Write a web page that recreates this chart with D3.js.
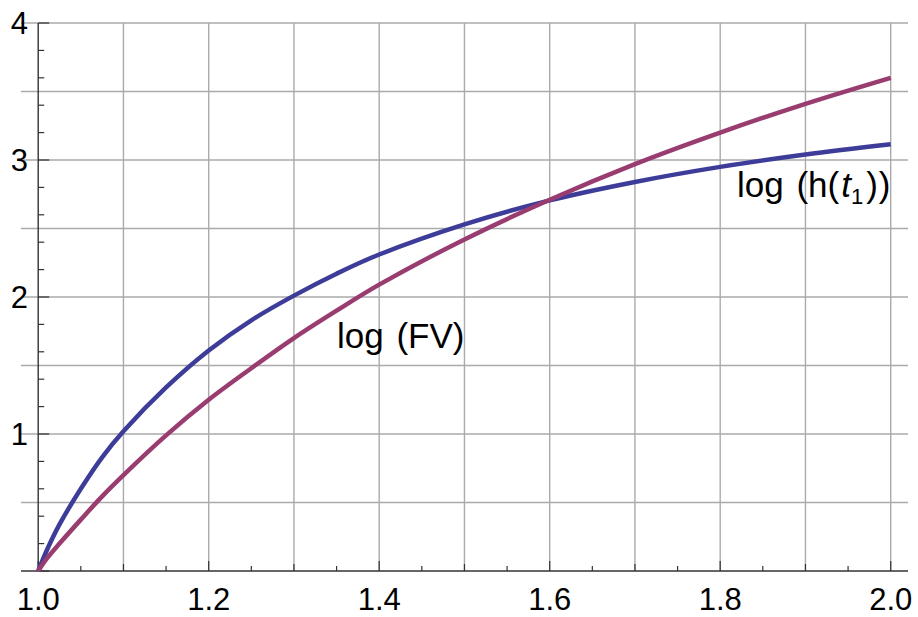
<!DOCTYPE html>
<html>
<head>
<meta charset="utf-8">
<script src="https://cdn.jsdelivr.net/npm/d3@7"></script>
<style>
  body { margin: 0; background: #fff; }
  svg { display: block; font-family: "Liberation Sans", Arial, sans-serif; }
</style>
</head>
<body>
<script>
// x positions where the curves were read
const xs = [1.0, 1.01, 1.025, 1.05, 1.075, 1.1, 1.15, 1.2, 1.25, 1.3, 1.35, 1.4, 1.5, 1.6, 1.7, 1.8, 1.9, 2.0];
// log(h(t1)) - blue
const logH = [0, 0.15, 0.34, 0.60, 0.83, 1.02, 1.34, 1.61, 1.83, 2.01, 2.17, 2.31, 2.53, 2.705, 2.84, 2.95, 3.04, 3.115];
// log(FV) - purple
const logFV = [0, 0.09, 0.20, 0.375, 0.545, 0.70, 0.99, 1.25, 1.48, 1.70, 1.90, 2.09, 2.42, 2.71, 2.97, 3.20, 3.41, 3.60];

const xTickLabels = [1.0, 1.2, 1.4, 1.6, 1.8, 2.0];
const yTickLabels = [1, 2, 3, 4];
const xGrid = d3.range(11).map(i => 1 + i / 10);
const yGrid = d3.range(1, 9).map(i => i / 2);

const W = 918, H = 617;
const x = d3.scaleLinear().domain([1, 2]).range([38.2, 890.7]);
const y = d3.scaleLinear().domain([0, 4]).range([571, 23]);

const svg = d3.select('body').append('svg')
  .attr('width', W)
  .attr('height', H);

// grid
svg.append('g').selectAll('line')
  .data(xGrid.slice(1))
  .enter().append('line')
  .attr('x1', d => x(d)).attr('x2', d => x(d))
  .attr('y1', y(4)).attr('y2', y(0))
  .attr('stroke', '#aaa').attr('stroke-width', 1.4);

svg.append('g').selectAll('line')
  .data(yGrid)
  .enter().append('line')
  .attr('x1', 21).attr('x2', 908)
  .attr('y1', d => y(d)).attr('y2', d => y(d))
  .attr('stroke', '#aaa').attr('stroke-width', 1.4);

// axes
const axisColor = '#333';
function tickLen(v, major, mid) {
  if (Math.abs(v / major - Math.round(v / major)) < 1e-6) return 10;
  if (mid && Math.abs(v / mid - Math.round(v / mid)) < 1e-6) return 7;
  return 5;
}

const xTicks = d3.range(21).map(i => 1 + i * 0.05);
svg.append('g').selectAll('line')
  .data(xTicks)
  .enter().append('line')
  .attr('x1', d => x(d)).attr('x2', d => x(d))
  .attr('y1', y(0)).attr('y2', d => y(0) - tickLen(d - 1, 0.2, 0.1))
  .attr('stroke', axisColor).attr('stroke-width', 1.2);

const yTicks = d3.range(21).map(i => i * 0.2);
svg.append('g').selectAll('line')
  .data(yTicks)
  .enter().append('line')
  .attr('x1', x(1)).attr('x2', d => x(1) + (Math.abs(d - Math.round(d)) < 1e-6 ? 11 : 6))
  .attr('y1', d => y(d)).attr('y2', d => y(d))
  .attr('stroke', axisColor).attr('stroke-width', 1.2);

svg.append('line')
  .attr('x1', 21).attr('x2', 908)
  .attr('y1', y(0)).attr('y2', y(0))
  .attr('stroke', axisColor).attr('stroke-width', 1.4);
svg.append('line')
  .attr('x1', x(1)).attr('x2', x(1))
  .attr('y1', y(4)).attr('y2', y(0))
  .attr('stroke', axisColor).attr('stroke-width', 1.4);

// tick labels
svg.append('g').selectAll('text')
  .data(xTickLabels)
  .enter().append('text')
  .attr('x', d => x(d)).attr('y', 610)
  .attr('text-anchor', 'middle')
  .attr('font-size', 31)
  .text(d => d3.format('.1f')(d));

svg.append('g').selectAll('text')
  .data(yTickLabels)
  .enter().append('text')
  .attr('x', 28).attr('y', d => y(d) + 11)
  .attr('text-anchor', 'end')
  .attr('font-size', 31)
  .text(d => d);

// curves
const line = d3.line()
  .x((d, i) => x(xs[i]))
  .y(d => y(d))
  .curve(d3.curveCatmullRom.alpha(0.5));

svg.append('path')
  .datum(logH)
  .attr('d', line)
  .attr('fill', 'none')
  .attr('stroke', '#3d3d99')
  .attr('stroke-width', 4.5);

svg.append('path')
  .datum(logFV)
  .attr('d', line)
  .attr('fill', 'none')
  .attr('stroke', '#993d71')
  .attr('stroke-width', 4.5);

// curve labels
const lab1 = svg.append('text')
  .attr('x', 337).attr('y', 348)
  .attr('font-size', 35);
lab1.append('tspan').text('log ');
lab1.append('tspan').attr('dx', 3).text('(FV)');

const lab = svg.append('text')
  .attr('x', 737).attr('y', 197)
  .attr('font-size', 35);
lab.append('tspan').text('log ');
lab.append('tspan').attr('dx', 3).text('(h(');
lab.append('tspan').attr('font-style', 'italic').attr('dx', 2).text('t');
lab.append('tspan').attr('font-size', 22).attr('dy', 7).text('1');
lab.append('tspan').attr('dy', -7).attr('dx', 3).text(')');
lab.append('tspan').attr('dx', 1).text(')');
</script>
</body>
</html>
